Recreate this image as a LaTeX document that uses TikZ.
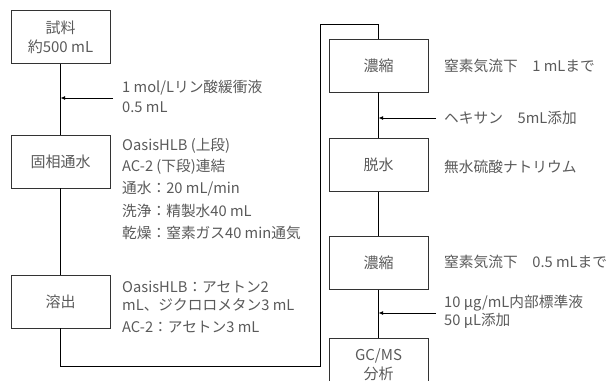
\documentclass[tikz,border=0pt]{standalone}
\usepackage{fontspec}
\setmainfont{Noto Sans CJK JP}
\usetikzlibrary{arrows.meta}
\definecolor{txt}{HTML}{5A5A5A}
\definecolor{ln}{HTML}{333333}
\tikzset{
  box/.style={draw=ln, line width=0.9pt, minimum width=99pt, minimum height=53pt, inner sep=0pt, text=txt, font=\fontsize{15}{19}\selectfont, align=center},
  lab/.style={anchor=west, inner sep=0pt, text=txt, font=\fontsize{14.7}{19}\selectfont, align=left},
  conn/.style={draw=black, line width=0.9pt},
  arr/.style={draw=black, line width=0.9pt, -{Latex[length=4.5pt,width=4pt]}}
}
\begin{document}
\begin{tikzpicture}[x=1pt,y=-1pt]
\useasboundingbox (0,0) rectangle (610,380);
\begin{scope}
\clip (0,0) rectangle (610,380);
\node[box] (b1) at (60.5,37) {試料\\約500 mL};
\node[box] (b2) at (60.5,161.5) {固相通水};
\node[box] (b3) at (60.5,301.5) {溶出};
\node[box] (b4) at (378.5,65.5) {濃縮};
\node[box] (b5) at (378.5,165) {脱水};
\node[box] (b6) at (378.5,263) {濃縮};
\node[box] (b7) at (378.5,364.5) {GC/MS\\分析};
\end{scope}
% connectors
\draw[conn] (b1) -- (b2);
\draw[conn] (b2) -- (b3);
\coordinate (c1) at (60.5,366);
\coordinate (c2) at (320.5,366);
\coordinate (c3) at (320.5,24);
\coordinate (c4) at (378.5,24);
\draw[conn] (b3.south) -- (c1) -- (c2) -- (c3) -- (c4) -- (b4.north);
\draw[conn] (b4) -- (b5);
\draw[conn] (b5) -- (b6);
\draw[conn] (b6) -- (b7);
% side arrows
\coordinate (s1) at (113,98);
\coordinate (j1) at (60.5,98);
\draw[arr] (s1) -- (j1);
\coordinate (s2) at (436,118);
\coordinate (j2) at (378.5,118);
\draw[arr] (s2) -- (j2);
\coordinate (s3) at (436,313);
\coordinate (j3) at (378.5,313);
\draw[arr] (s3) -- (j3);
% labels
\node[lab] (l1) at (122,88) {1 mol/Lリン酸緩衝液};
\node[lab] (l2) at (122,107) {0.5 mL};
\node[lab] (l3) at (122,146) {OasisHLB (上段)};
\node[lab] (l4) at (122,167) {AC-2 (下段)連結};
\node[lab] (l5) at (122,189) {通水：20 mL/min};
\node[lab] (l6) at (122,211) {洗浄：精製水40 mL};
\node[lab] (l7) at (122,233) {乾燥：窒素ガス40 min通気};
\node[lab] (l8) at (122,287) {OasisHLB：アセトン2};
\node[lab] (l9) at (122,305) {mL、ジクロロメタン3 mL};
\node[lab] (l10) at (122,327) {AC-2：アセトン3 mL};
\node[lab] (r1) at (444,66) {窒素気流下　1 mLまで};
\node[lab] (r2) at (444,118) {ヘキサン　5mL添加};
\node[lab] (r3) at (444,167) {無水硫酸ナトリウム};
\node[lab] (r4) at (444,262) {窒素気流下　0.5 mLまで};
\node[lab] (r5) at (444,303) {10 µg/mL内部標準液};
\node[lab] (r6) at (444,321) {50 µL添加};
\end{tikzpicture}
\end{document}
